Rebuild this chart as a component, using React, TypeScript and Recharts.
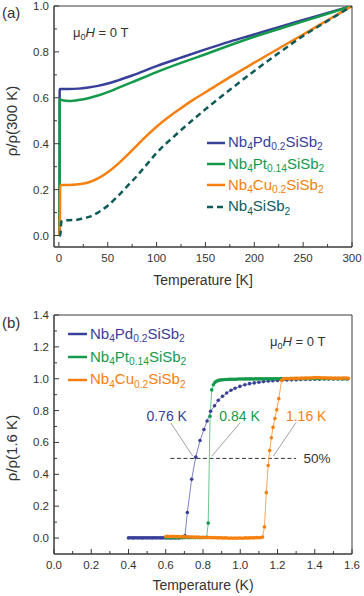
import React from 'react';
import {
  LineChart,
  Line,
  XAxis,
  YAxis,
  ReferenceArea,
  ReferenceLine,
  ReferenceDot,
} from 'recharts';

const FONT = '"Liberation Sans", Arial, Helvetica, sans-serif';
const AXIS = '#3a3a3a';
const TEXT = '#333333';

const BLUE = '#38409a';
const GREEN = '#15994b';
const ORANGE = '#f5800f';
const TEAL = '#0f5b5a';

const BLUE_LINE = '#7d83c6';
const GREEN_LINE = '#6cc690';
const ORANGE_LINE = '#f8a65c';

// ---- panel (a): rho/rho(300 K) vs T ----
const pdTa = [0.5, 0.76, 0.8, 1, 5, 10, 20, 30, 40, 50, 60, 75, 100, 125, 150, 175, 200, 225, 250, 275, 300];
const pdRa = [0, 0.3, 0.638, 0.638, 0.638, 0.638, 0.64, 0.645, 0.652, 0.662, 0.675, 0.697, 0.738, 0.775, 0.811, 0.845, 0.876, 0.908, 0.939, 0.97, 1.0];

const ptTa = [0.5, 0.84, 0.9, 2, 5, 10, 15, 20, 30, 40, 50, 60, 75, 100, 125, 150, 175, 200, 225, 250, 275, 300];
const ptRa = [0, 0.3, 0.595, 0.592, 0.588, 0.586, 0.587, 0.59, 0.598, 0.61, 0.625, 0.642, 0.668, 0.712, 0.752, 0.79, 0.829, 0.866, 0.9, 0.933, 0.966, 1.0];

const cuTa = [0.5, 1.16, 1.25, 5, 10, 20, 30, 40, 50, 60, 70, 80, 90, 100, 112, 125, 137, 150, 175, 200, 225, 250, 275, 300];
const cuRa = [0, 0.11, 0.22, 0.22, 0.22, 0.223, 0.231, 0.249, 0.276, 0.31, 0.35, 0.393, 0.435, 0.474, 0.515, 0.555, 0.59, 0.624, 0.69, 0.753, 0.815, 0.876, 0.938, 1.0];

const nbTa = [0.5, 1.5, 2.5, 5, 10, 20, 30, 40, 50, 60, 70, 80, 90, 100, 120, 150, 175, 200, 225, 250, 275, 300];
const nbRa = [0, 0, 0.06, 0.065, 0.067, 0.07, 0.08, 0.1, 0.13, 0.17, 0.215, 0.26, 0.31, 0.36, 0.44, 0.55, 0.635, 0.717, 0.795, 0.87, 0.935, 1.0];

const aXTicks = [0, 25, 50, 75, 100, 125, 150, 175, 200, 225, 250, 275, 300];
const aYTicks = [0, 0.1, 0.2, 0.3, 0.4, 0.5, 0.6, 0.7, 0.8, 0.9, 1.0];

// ---- panel (b): rho/rho(1.6 K) vs T near Tc ----
const pdTb = [
  0.40, 0.41, 0.42, 0.43, 0.44, 0.45, 0.46, 0.47, 0.48, 0.49, 0.50, 0.51, 0.52, 0.53, 0.54,
  0.55, 0.56, 0.57, 0.58, 0.59, 0.60, 0.61, 0.62, 0.63, 0.64, 0.65, 0.66, 0.67, 0.68, 0.69,
  0.703, 0.716, 0.739, 0.761, 0.784, 0.805, 0.822, 0.841, 0.862, 0.882, 0.905, 0.927, 0.95,
  0.972, 0.998, 1.025, 1.05, 1.075, 1.10, 1.125, 1.15, 1.175, 1.20, 1.225, 1.25, 1.275, 1.30,
  1.325, 1.35, 1.375, 1.40, 1.425, 1.45, 1.475, 1.50, 1.525, 1.55, 1.575,
];
const pdRb = [
  0.001, 0.002, 0.001, 0.001, 0.002, 0.001, 0.002, 0.001, 0.001, 0.002, 0.001, 0.002, 0.001, 0.001, 0.002,
  0.001, 0.002, 0.001, 0.001, 0.002, 0.001, 0.002, 0.001, 0.001, 0.002, 0.001, 0.002, 0.001, 0.002, 0.003,
  0.015, 0.16, 0.369, 0.508, 0.612, 0.681, 0.735, 0.796, 0.83, 0.865, 0.89, 0.91, 0.928,
  0.94, 0.952, 0.962, 0.969, 0.974, 0.978, 0.982, 0.985, 0.987, 0.989, 0.991, 0.992, 0.993, 0.994,
  0.995, 0.996, 0.996, 0.997, 0.997, 0.998, 0.998, 0.998, 0.999, 0.999, 0.999,
];

const ptTb = [
  0.60, 0.61, 0.62, 0.63, 0.64, 0.65, 0.66, 0.67, 0.68, 0.69, 0.70, 0.71, 0.72, 0.73, 0.74,
  0.75, 0.76, 0.77, 0.78, 0.79, 0.80, 0.81, 0.82,
  0.828, 0.838, 0.847, 0.856, 0.864, 0.872, 0.88, 0.89,
  0.90, 0.91, 0.92, 0.93, 0.94, 0.95, 0.96, 0.97, 0.98, 0.99, 1.00, 1.01, 1.02, 1.03, 1.04,
  1.05, 1.06, 1.07, 1.08, 1.09, 1.10, 1.11, 1.12, 1.13, 1.14, 1.15, 1.16, 1.17, 1.18, 1.19,
  1.20, 1.21, 1.22, 1.23, 1.24, 1.25, 1.26, 1.27, 1.28, 1.29, 1.30, 1.31, 1.32, 1.33, 1.34,
  1.35, 1.36, 1.37, 1.38, 1.39, 1.40, 1.41, 1.42, 1.43, 1.44, 1.45, 1.46, 1.47, 1.48, 1.49,
  1.50, 1.51, 1.52, 1.53, 1.54, 1.55, 1.56, 1.57, 1.58,
];
const ptRb = [
  0.004, 0.003, 0.004, 0.003, 0.003, 0.004, 0.003, 0.003, 0.004, 0.003, 0.003, 0.004, 0.003, 0.003, 0.004,
  0.003, 0.003, 0.004, 0.003, 0.003, 0.004, 0.004, 0.005,
  0.094, 0.765, 0.93, 0.962, 0.977, 0.984, 0.988, 0.991,
  0.993, 0.994, 0.995, 0.995, 0.996, 0.996, 0.997, 0.997, 0.997, 0.998, 0.998, 0.998, 0.998, 0.999, 0.998,
  0.999, 0.999, 0.998, 0.999, 0.999, 1.0, 0.999, 1.0, 0.999, 1.0, 1.0, 0.999, 1.0, 1.0, 1.0,
  1.0, 1.0, 1.001, 1.0, 1.0, 1.001, 1.0, 1.0, 1.001, 1.0, 1.001, 1.0, 1.0, 1.001, 1.0,
  1.001, 1.0, 1.001, 1.0, 1.001, 1.001, 1.0, 1.001, 1.0, 1.001, 1.001, 1.0, 1.001, 1.0, 1.001,
  1.0, 1.001, 1.0, 1.001, 1.0, 1.001, 1.0, 1.0, 1.001,
];

const cuTb = [
  0.60, 0.61, 0.62, 0.63, 0.64, 0.65, 0.66, 0.67, 0.68, 0.69, 0.70, 0.71, 0.72, 0.73, 0.74,
  0.75, 0.76, 0.77, 0.78, 0.79, 0.80, 0.81, 0.82, 0.83, 0.84, 0.85, 0.86, 0.87, 0.88, 0.89,
  0.90, 0.91, 0.92, 0.93, 0.94, 0.95, 0.96, 0.97, 0.98, 0.99, 1.00, 1.01, 1.02, 1.03, 1.04,
  1.05, 1.06, 1.07, 1.08, 1.09, 1.10, 1.11, 1.12,
  1.13, 1.14, 1.15, 1.158, 1.167, 1.176, 1.186, 1.196, 1.207, 1.222,
  1.23, 1.24, 1.25, 1.26, 1.27, 1.28, 1.29, 1.30, 1.31, 1.32, 1.33, 1.34, 1.35, 1.36, 1.37,
  1.38, 1.39, 1.40, 1.41, 1.42, 1.43, 1.44, 1.45, 1.46, 1.47, 1.48, 1.49, 1.50, 1.51, 1.52,
  1.53, 1.54, 1.55, 1.56, 1.57, 1.58,
];
const cuRb = [
  0.01, 0.011, 0.01, 0.009, 0.011, 0.01, 0.009, 0.01, 0.008, 0.009, 0.008, 0.007, 0.008, 0.006, 0.007,
  0.006, 0.005, 0.006, 0.005, 0.004, 0.005, 0.004, 0.003, 0.004, 0.003, 0.002, 0.003, 0.002, 0.001, 0.002,
  0.001, 0.0, 0.001, 0.0, -0.001, 0.0, -0.001, 0.0, -0.001, 0.0, 0.0, -0.001, 0.0, 0.001, 0.0,
  0.001, 0.002, 0.001, 0.002, 0.003, 0.002, 0.004, 0.006,
  0.07, 0.285, 0.455, 0.55, 0.63, 0.695, 0.75, 0.805, 0.875, 0.99,
  0.998, 1.0, 1.001, 1.0, 1.002, 1.001, 1.002, 1.003, 1.002, 1.003, 1.004, 1.003, 1.004, 1.005, 1.004,
  1.005, 1.006, 1.007, 1.006, 1.007, 1.006, 1.005, 1.006, 1.005, 1.004, 1.005, 1.004, 1.003, 1.004, 1.003,
  1.004, 1.003, 1.004, 1.005, 1.004, 1.003,
];

const bXTicks = [0, 0.1, 0.2, 0.3, 0.4, 0.5, 0.6, 0.7, 0.8, 0.9, 1.0, 1.1, 1.2, 1.3, 1.4, 1.5, 1.6];
const bYTicks = [0, 0.1, 0.2, 0.3, 0.4, 0.5, 0.6, 0.7, 0.8, 0.9, 1.0, 1.1, 1.2, 1.3, 1.4];

// 50% guide and Tc annotations in panel (b)
const halfLine = [{ x: 0.625, y: 0.5 }, { x: 1.3, y: 0.5 }];
const tcLabels = [
  { text: '0.76 K', x: 0.605, y: 0.765, color: BLUE, from: { x: 0.627, y: 0.723 }, to: { x: 0.745, y: 0.514 } },
  { text: '0.84 K', x: 0.996, y: 0.765, color: GREEN, from: { x: 0.999, y: 0.723 }, to: { x: 0.847, y: 0.514 } },
  { text: '1.16 K', x: 1.354, y: 0.765, color: ORANGE, from: { x: 1.298, y: 0.723 }, to: { x: 1.178, y: 0.514 } },
];

const PD_NAME = ['Nb', '4', 'Pd', '0.2', 'SiSb', '2'];
const PT_NAME = ['Nb', '4', 'Pt', '0.14', 'SiSb', '2'];
const CU_NAME = ['Nb', '4', 'Cu', '0.2', 'SiSb', '2'];
const NB_NAME = ['Nb', '4', 'SiSb', '2'];

const zip = (xs: number[], ys: number[]) =>
  xs.slice(0, Math.min(xs.length, ys.length)).map((x, i) => ({ x, y: ys[i] }));

const XTick = (props: any) => {
  const { x, y, index, payload, fmt } = props;
  const major = index % 2 === 0;
  return (
    <g>
      <line x1={x} x2={x} y1={y} y2={y - (major ? 5 : 3)} stroke={AXIS} strokeWidth={1} />
      {major && (
        <text x={x} y={y + 15} textAnchor="middle" fontSize={11.5} fill={TEXT}>
          {fmt(payload.value)}
        </text>
      )}
    </g>
  );
};

const YTick = (props: any) => {
  const { x, y, index, payload } = props;
  const major = index % 2 === 0;
  return (
    <g>
      <line x1={x} x2={x + (major ? 5 : 3)} y1={y} y2={y} stroke={AXIS} strokeWidth={1} />
      {major && (
        <text x={x - 5} y={y + 4} textAnchor="end" fontSize={11.5} fill={TEXT}>
          {payload.value.toFixed(1)}
        </text>
      )}
    </g>
  );
};

const Formula = ({ parts }: { parts: string[] }) => (
  <>
    {parts.map((p, i) =>
      i % 2 === 1 ? (
        <span key={i} style={{ fontSize: '0.68em', position: 'relative', top: '0.32em' }}>
          {p}
        </span>
      ) : (
        <span key={i}>{p}</span>
      )
    )}
  </>
);

const FieldNote = ({ left, top }: { left: number; top: number }) => (
  <div style={{ position: 'absolute', left, top, fontSize: 13, lineHeight: '16px', color: TEXT, whiteSpace: 'nowrap' }}>
    μ<span style={{ fontSize: '0.7em', position: 'relative', top: '0.3em' }}>0</span>
    <i>H</i> = 0 T
  </div>
);

const LegendBox = ({
  left,
  top,
  rowHeight,
  lineWidth,
  items,
}: {
  left: number;
  top: number;
  rowHeight: number;
  lineWidth: number;
  items: { name: string[]; color: string; dashed?: boolean }[];
}) => (
  <div style={{ position: 'absolute', left, top }}>
    {items.map((it, i) => (
      <div key={i} style={{ display: 'flex', alignItems: 'center', height: rowHeight, whiteSpace: 'nowrap' }}>
        <svg width={lineWidth} height={6} style={{ marginRight: 3 }}>
          <line
            x1={0}
            x2={lineWidth}
            y1={3}
            y2={3}
            stroke={it.color}
            strokeWidth={2.5}
            strokeDasharray={it.dashed ? '6 4' : undefined}
          />
        </svg>
        <span style={{ fontSize: 15, lineHeight: '17px', color: it.color }}>
          <Formula parts={it.name} />
        </span>
      </div>
    ))}
  </div>
);

const YTitle = ({ cx, cy, children }: { cx: number; cy: number; children: React.ReactNode }) => (
  <div
    style={{
      position: 'absolute',
      left: cx,
      top: cy,
      transform: 'translate(-50%, -50%) rotate(-90deg)',
      fontSize: 15,
      color: TEXT,
      whiteSpace: 'nowrap',
    }}
  >
    {children}
  </div>
);

const Tag = ({ top, text }: { top: number; text: string }) => (
  <div style={{ position: 'absolute', left: 2, top, fontSize: 15, lineHeight: '18px', color: TEXT }}>{text}</div>
);

const PanelA = () => (
  <LineChart width={364} height={300} margin={{ top: 6, right: 12, left: 0, bottom: 0 }}>
    <XAxis
      dataKey="x"
      type="number"
      domain={[-5, 300]}
      ticks={aXTicks}
      interval={0}
      height={53}
      tickSize={0}
      tickMargin={0}
      tickLine={false}
      axisLine={{ stroke: AXIS }}
      tick={<XTick fmt={(v: number) => String(v)} />}
      allowDataOverflow
      label={{ value: 'Temperature [K]', position: 'insideBottom', offset: 15, fontSize: 14, fill: TEXT }}
    />
    <YAxis
      type="number"
      domain={[-0.05, 1.0]}
      ticks={aYTicks}
      interval={0}
      width={54}
      tickSize={0}
      tickMargin={0}
      tickLine={false}
      axisLine={{ stroke: AXIS }}
      tick={<YTick />}
      allowDataOverflow
    />
    <ReferenceArea x1={-5} x2={300} y1={-0.05} y2={1.0} fill="none" stroke={AXIS} strokeWidth={1} />
    <Line data={zip(pdTa, pdRa)} dataKey="y" type="monotone" stroke={BLUE} strokeWidth={2.5} dot={false} isAnimationActive={false} />
    <Line data={zip(ptTa, ptRa)} dataKey="y" type="monotone" stroke={GREEN} strokeWidth={2.5} dot={false} isAnimationActive={false} />
    <Line data={zip(cuTa, cuRa)} dataKey="y" type="monotone" stroke={ORANGE} strokeWidth={2.5} dot={false} isAnimationActive={false} />
    <Line
      data={zip(nbTa, nbRa)}
      dataKey="y"
      type="monotone"
      stroke={TEAL}
      strokeWidth={2.5}
      strokeDasharray="6 4"
      dot={false}
      isAnimationActive={false}
    />
  </LineChart>
);

const PanelB = () => (
  <LineChart width={364} height={296} margin={{ top: 15, right: 12, left: 0, bottom: 0 }}>
    <XAxis
      dataKey="x"
      type="number"
      domain={[0, 1.6]}
      ticks={bXTicks}
      interval={0}
      height={42}
      tickSize={0}
      tickMargin={0}
      tickLine={false}
      axisLine={{ stroke: AXIS }}
      tick={<XTick fmt={(v: number) => v.toFixed(1)} />}
      allowDataOverflow
      label={{ value: 'Temperature (K)', position: 'insideBottom', offset: 6, fontSize: 14, fill: TEXT }}
    />
    <YAxis
      type="number"
      domain={[-0.1, 1.4]}
      ticks={bYTicks}
      interval={0}
      width={54}
      tickSize={0}
      tickMargin={0}
      tickLine={false}
      axisLine={{ stroke: AXIS }}
      tick={<YTick />}
      allowDataOverflow
    />
    <ReferenceArea x1={0} x2={1.6} y1={-0.1} y2={1.4} fill="none" stroke={AXIS} strokeWidth={1} />
    <ReferenceLine segment={halfLine} stroke="#333" strokeWidth={1} strokeDasharray="4 2.5" />
    {tcLabels.map((t) => (
      <ReferenceLine key={t.text + 'l'} segment={[t.from, t.to]} stroke="#8a8a8a" strokeWidth={0.8} />
    ))}
    <Line
      data={zip(pdTb, pdRb)}
      dataKey="y"
      type="linear"
      stroke={BLUE_LINE}
      strokeWidth={1}
      dot={{ r: 1.8, fill: BLUE, stroke: 'none' }}
      isAnimationActive={false}
    />
    <Line
      data={zip(ptTb, ptRb)}
      dataKey="y"
      type="linear"
      stroke={GREEN_LINE}
      strokeWidth={1}
      dot={{ r: 1.8, fill: GREEN, stroke: 'none' }}
      isAnimationActive={false}
    />
    <Line
      data={zip(cuTb, cuRb)}
      dataKey="y"
      type="linear"
      stroke={ORANGE_LINE}
      strokeWidth={1}
      dot={{ r: 1.8, fill: ORANGE, stroke: 'none' }}
      isAnimationActive={false}
    />
    {tcLabels.map((t) => (
      <ReferenceDot
        key={t.text}
        x={t.x}
        y={t.y}
        r={0}
        stroke="none"
        fill="none"
        label={{ value: t.text, position: 'center', fill: t.color, fontSize: 14 }}
      />
    ))}
    <ReferenceDot
      x={1.412}
      y={0.5}
      r={0}
      stroke="none"
      fill="none"
      label={{ value: '50%', position: 'center', fill: TEXT, fontSize: 13.5 }}
    />
  </LineChart>
);

export default function App() {
  return (
    <div
      style={{
        position: 'absolute',
        left: 0,
        top: 0,
        width: 364,
        height: 596,
        background: '#fff',
        fontFamily: FONT,
        overflow: 'hidden',
      }}
    >
      <div style={{ position: 'absolute', left: 0, top: 0 }}>
        <PanelA />
      </div>
      <div style={{ position: 'absolute', left: 0, top: 300 }}>
        <PanelB />
      </div>

      <Tag top={4} text="(a)" />
      <Tag top={314} text="(b)" />
      <YTitle cx={11} cy={121}>ρ/ρ(300 K)</YTitle>
      <YTitle cx={11} cy={448}>ρ/ρ(1.6 K)</YTitle>
      <FieldNote left={73} top={25} />
      <FieldNote left={270} top={334} />

      <LegendBox
        left={207}
        top={132}
        rowHeight={21.4}
        lineWidth={18}
        items={[
          { name: PD_NAME, color: BLUE },
          { name: PT_NAME, color: GREEN },
          { name: CU_NAME, color: ORANGE },
          { name: NB_NAME, color: TEAL, dashed: true },
        ]}
      />
      <LegendBox
        left={68}
        top={323}
        rowHeight={22.8}
        lineWidth={19}
        items={[
          { name: PD_NAME, color: BLUE },
          { name: PT_NAME, color: GREEN },
          { name: CU_NAME, color: ORANGE },
        ]}
      />
    </div>
  );
}
